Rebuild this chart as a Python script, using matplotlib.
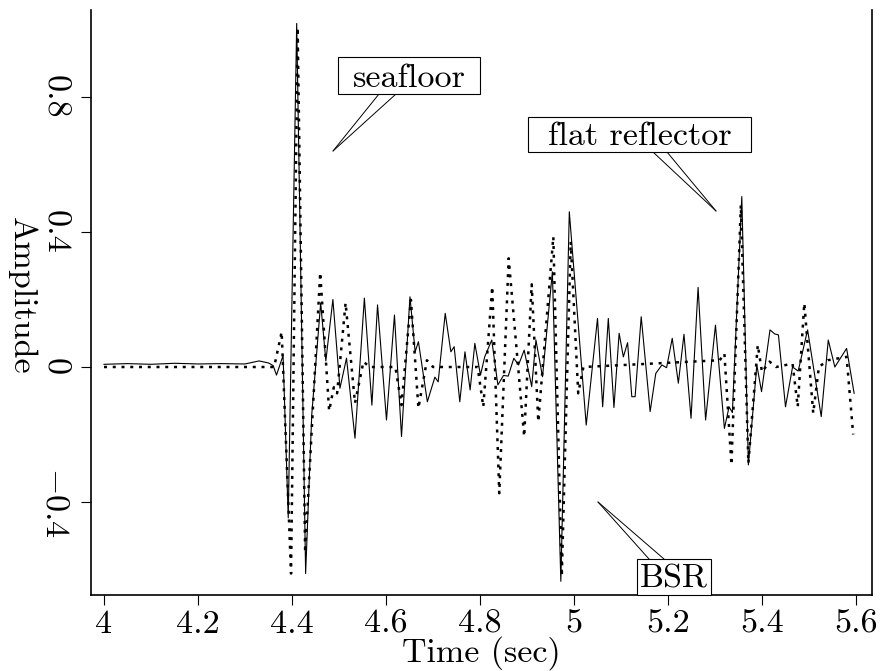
import matplotlib
matplotlib.use('Agg')
import matplotlib.pyplot as plt
from matplotlib.patches import Rectangle

# ---------------- data ----------------
solid_t = [4.000, 4.050, 4.100, 4.150, 4.200, 4.250, 4.300, 4.330, 4.350, 4.360,
           4.367, 4.381, 4.392, 4.410, 4.429, 4.442, 4.461, 4.472, 4.487, 4.502,
           4.516, 4.534, 4.554, 4.570, 4.582, 4.601, 4.618, 4.633, 4.651, 4.662,
           4.669, 4.688, 4.704, 4.711, 4.726, 4.738, 4.745, 4.757, 4.768, 4.779,
           4.789, 4.801, 4.810, 4.825, 4.838, 4.850, 4.860, 4.872, 4.882, 4.894,
           4.910, 4.919, 4.933, 4.954, 4.972, 4.990, 5.026, 5.050, 5.061, 5.073,
           5.085, 5.096, 5.105, 5.114, 5.123, 5.130, 5.143, 5.162, 5.174, 5.187,
           5.197, 5.209, 5.222, 5.234, 5.249, 5.264, 5.280, 5.301, 5.320, 5.330,
           5.337, 5.357, 5.371, 5.389, 5.399, 5.417, 5.427, 5.435, 5.450, 5.465,
           5.477, 5.497, 5.526, 5.541, 5.555, 5.580, 5.596]
solid_a = [0.008, 0.010, 0.008, 0.011, 0.009, 0.010, 0.009, 0.018, 0.012, 0.004,
           -0.024, 0.034, -0.447, 1.018, -0.612, -0.142, 0.190, 0.018, 0.200, -0.063,
           0.026, -0.211, 0.204, -0.113, 0.184, -0.157, 0.154, -0.206, 0.208, 0.045,
           0.075, -0.103, -0.030, -0.044, 0.159, 0.045, 0.060, -0.103, 0.045, -0.068,
           0.070, -0.024, 0.030, 0.080, -0.053, -0.025, -0.027, 0.026, 0.006, 0.050,
           -0.058, 0.080, -0.029, 0.282, -0.635, 0.460, -0.172, 0.144, -0.118, 0.144,
           -0.120, 0.100, 0.030, 0.072, -0.088, -0.088, 0.149, -0.132, -0.019, 0.006,
           -0.002, 0.085, -0.048, 0.097, -0.152, 0.236, -0.157, 0.124, -0.182, -0.118,
           -0.135, 0.505, -0.290, 0.006, -0.073, 0.110, 0.098, 0.095, -0.118, 0.000,
           -0.012, 0.110, -0.147, 0.080, 0.000, 0.055, -0.078]

dotted_t = [4.000, 4.362, 4.378, 4.398, 4.412, 4.428, 4.460, 4.479, 4.489, 4.496,
            4.514, 4.534, 4.552, 4.565, 4.620, 4.633, 4.653, 4.669, 4.687, 4.700,
            4.795, 4.807, 4.826, 4.841, 4.861, 4.894, 4.910, 4.924, 4.956, 4.974,
            4.993, 5.009, 5.020, 5.310, 5.320, 5.335, 5.355, 5.371, 5.391, 5.400,
            5.416, 5.430, 5.465, 5.476, 5.490, 5.509, 5.521, 5.540, 5.580, 5.594]
dotted_a = [0.000, 0.000, 0.104, -0.612, 1.006, -0.550, 0.280, -0.130, -0.060, -0.078,
            0.190, -0.107, 0.016, 0.000, 0.000, -0.113, 0.199, -0.122, 0.020, 0.000,
            0.000, -0.118, 0.238, -0.374, 0.322, -0.206, 0.245, -0.162, 0.386, -0.620,
            0.371, -0.078, 0.000, 0.020, 0.040, -0.290, 0.480, -0.285, 0.065, -0.015,
            0.016, 0.000, 0.010, -0.118, 0.189, -0.137, 0.000, 0.020, 0.030, -0.200]

x_ticks = [4.0, 4.2, 4.4, 4.6, 4.8, 5.0, 5.2, 5.4, 5.6]
x_tick_labels = ['4', '4.2', '4.4', '4.6', '4.8', '5', '5.2', '5.4', '5.6']
y_ticks = [-0.4, 0.0, 0.4, 0.8]
y_tick_labels = ['$-0.4$', '0', '0.4', '0.8']

x_label = 'Time (sec)'
y_label = 'Amplitude'
callout_texts = ['seafloor', 'flat reflector', 'BSR']

# ---------------- style / layout ----------------
plt.rcParams['font.family'] = ['cmr10', 'DejaVu Serif']
plt.rcParams['mathtext.fontset'] = 'cm'
plt.rcParams['axes.formatter.use_mathtext'] = True
FS = 24.5

W, H = 881, 671
L, R, T, B = 91, 872, 10, 595
fig = plt.figure(figsize=(W / 100, H / 100), dpi=100)
ax = fig.add_axes([L / W, (H - B) / H, (R - L) / W, (B - T) / H])


def px(x, y):
    """pixel position -> axes fraction (layout helper)"""
    return ((x - L) / (R - L), (B - y) / (B - T))


ax.plot(solid_t, solid_a, color='black', lw=0.8, zorder=3)
ax.plot(dotted_t, dotted_a, color='black', lw=1.8, linestyle=(0, (1.2, 2.3)), zorder=3)

# x: 4.0 at px 104, 470 px per unit; y: 0 at px 367, 337.5 px per unit
ax.set_xlim(4 + (L - 104) / 470, 4 + (R - 104) / 470)
ax.set_ylim((367 - B) / 337.5, (367 - T) / 337.5)

ax.set_xticks(x_ticks)
ax.set_xticklabels(x_tick_labels, fontsize=FS)
ax.set_yticks(y_ticks)
ax.set_yticklabels(y_tick_labels, fontsize=FS, rotation=270, va='center')

ax.tick_params(axis='both', direction='out', length=7.5, width=0.8, colors='black')
ax.tick_params(axis='x', pad=3)
ax.tick_params(axis='y', pad=8)

for s in ['left', 'bottom', 'right']:
    ax.spines[s].set_linewidth(1.2)
ax.spines['top'].set_visible(False)

ax.set_xlabel(x_label, fontsize=FS, va='center')
ax.xaxis.set_label_coords(*px((L + R) / 2, 653))
ax.set_ylabel(y_label, fontsize=FS, rotation=270, va='center', ha='center')
ax.yaxis.set_label_coords(*px(22, 296))

# callouts: (text, box [x0, x1, y0, y1] in px, baseline y px, line starts, tip)
callouts = [
    (callout_texts[0], (338, 480, 57, 94), 87, [(379, 94), (396, 94)], (333, 151)),
    (callout_texts[1], (528, 751, 117, 152), 145, [(653, 152), (667, 152)], (716, 211)),
    (callout_texts[2], (637, 711, 559, 595), 588, [(649, 559), (664, 559)], (598, 502)),
]
for text, (x0, x1, y0, y1), base, starts, tip in callouts:
    ax0, ay1 = px(x0, y1)
    ax1, ay0 = px(x1, y0)
    ax.add_patch(Rectangle((ax0, ay1), ax1 - ax0, ay0 - ay1, transform=ax.transAxes,
                           fc='white', ec='black', lw=0.8, zorder=5, clip_on=False))
    cx, cy = px((x0 + x1) / 2, base)
    ax.text(cx, cy, text, transform=ax.transAxes, ha='center', va='baseline',
            fontsize=FS, zorder=6)
    for sx, sy in starts:
        ax.annotate('', xy=px(*tip), xycoords='axes fraction',
                    xytext=px(sx, sy), textcoords='axes fraction',
                    arrowprops=dict(arrowstyle='-', lw=0.7, color='black',
                                    shrinkA=0, shrinkB=0), zorder=4)

fig.savefig('out.png', dpi=100)
